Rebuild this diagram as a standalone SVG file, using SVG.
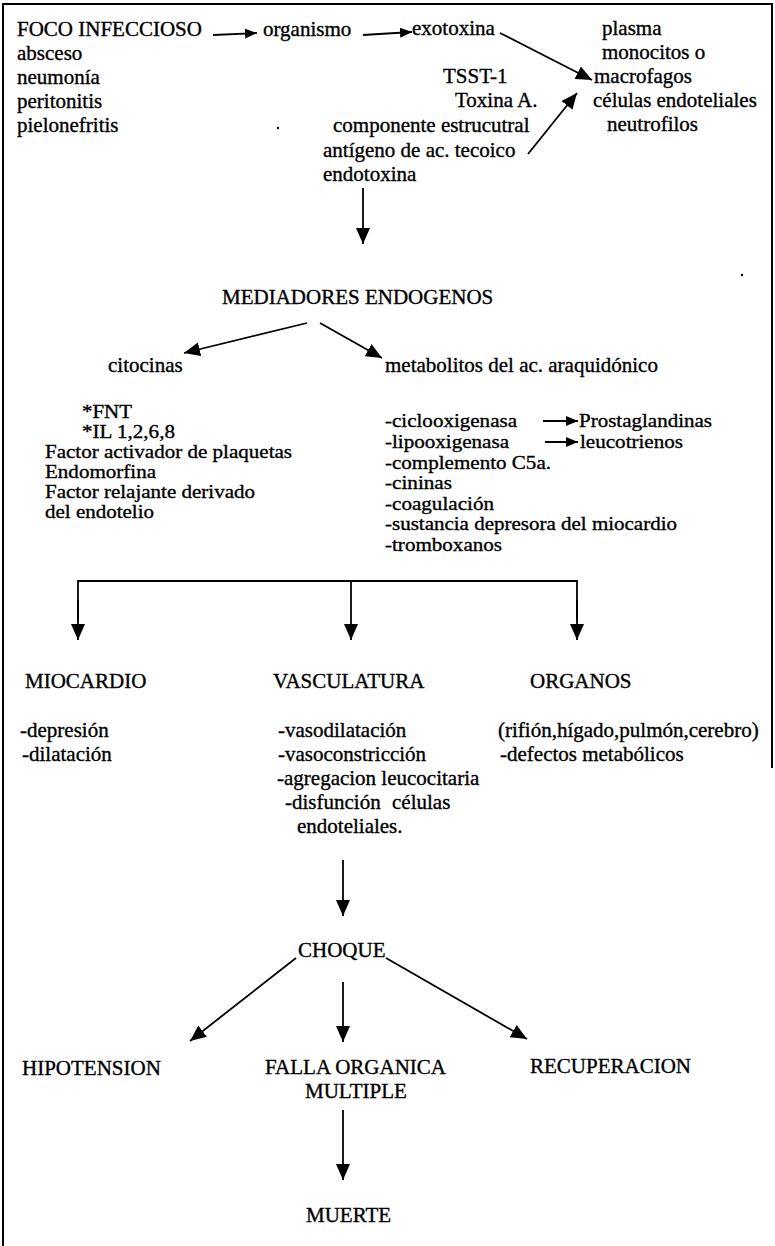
<svg xmlns="http://www.w3.org/2000/svg" width="775" height="1246" viewBox="0 0 775 1246">
  <style>
    text { font-family: "Liberation Serif", "Times New Roman", serif; font-size: 21px; fill: #000; stroke: #000; stroke-width: 0.35px; }
    text.dense { font-size: 18.5px; }
    .frame { fill: none; stroke: #000; stroke-width: 2; }
    .conn { fill: none; stroke: #000; stroke-width: 1.8; }
    .big { marker-end: url(#ah); }
    .small { marker-end: url(#ahs); }
  </style>
  <defs>
    <marker id="ah" viewBox="0 0 16 14" refX="16" refY="7" markerWidth="16" markerHeight="14" markerUnits="userSpaceOnUse" orient="auto">
      <path d="M0,0 L16,7 L0,14 z" fill="#000"/>
    </marker>
    <marker id="ahs" viewBox="0 0 12 10" refX="12" refY="5" markerWidth="12" markerHeight="10" markerUnits="userSpaceOnUse" orient="auto">
      <path d="M0,0 L12,5 L0,10 z" fill="#000"/>
    </marker>
  </defs>

  <rect width="775" height="1246" fill="#fff"/>

  <!-- outer frame: top, left, partial right -->
  <g id="frame">
    <path class="frame" d="M3,1246 L3,4 L772,4 L772,768"/>
  </g>

  <!-- connectors -->
  <g id="connectors">
    <line class="conn small" x1="213" y1="35" x2="257" y2="33"/>
    <line class="conn small" x1="363" y1="35" x2="412" y2="32"/>
    <line class="conn big" x1="500" y1="33" x2="592" y2="80"/>
    <line class="conn big" x1="528" y1="154" x2="577" y2="93"/>
    <line class="conn big" x1="363" y1="188" x2="363" y2="244"/>
    <line class="conn big" x1="307" y1="323" x2="184" y2="353"/>
    <line class="conn big" x1="320" y1="323" x2="382" y2="358"/>
    <line class="conn small" x1="543" y1="421" x2="578" y2="421"/>
    <line class="conn small" x1="545" y1="442" x2="578" y2="442"/>
    <path class="conn" d="M78,620 L78,581 L577,581 L577,620"/>
    <line class="conn big" x1="78" y1="600" x2="78" y2="640"/>
    <line class="conn big" x1="351" y1="581" x2="351" y2="640"/>
    <line class="conn big" x1="577" y1="600" x2="577" y2="640"/>
    <line class="conn big" x1="343" y1="860" x2="343" y2="916"/>
    <line class="conn big" x1="296" y1="958" x2="190" y2="1041"/>
    <line class="conn big" x1="343" y1="982" x2="343" y2="1042"/>
    <line class="conn big" x1="386" y1="958" x2="527" y2="1039"/>
    <line class="conn big" x1="343" y1="1110" x2="343" y2="1180"/>
  </g>

  <g id="foco">
    <text x="17" y="36">FOCO INFECCIOSO</text>
    <text x="17" y="60">absceso</text>
    <text x="17" y="84">neumonía</text>
    <text x="17" y="108">peritonitis</text>
    <text x="17" y="132">pielonefritis</text>
  </g>
  <g id="organismo"><text x="263" y="36">organismo</text></g>
  <g id="exotoxina">
    <text x="412" y="35">exotoxina</text>
    <text x="443" y="83">TSST-1</text>
    <text x="455" y="107">Toxina A.</text>
  </g>
  <g id="endotoxina">
    <text x="333" y="132">componente estrucutral</text>
    <text x="323" y="157">antígeno de ac. tecoico</text>
    <text x="323" y="181">endotoxina</text>
  </g>
  <g id="celulas">
    <text x="602" y="35">plasma</text>
    <text x="602" y="59">monocitos o</text>
    <text x="594" y="83">macrofagos</text>
    <text x="593" y="107">células endoteliales</text>
    <text x="607" y="131">neutrofilos</text>
  </g>
  <g id="specks">
    <circle cx="278" cy="128" r="1.2" fill="#000"/>
    <circle cx="742" cy="275" r="1.2" fill="#000"/>
  </g>

  <g id="mediadores"><text x="222" y="304">MEDIADORES ENDOGENOS</text></g>

  <g id="citocinas">
    <text x="108" y="372">citocinas</text>
    <text class="dense" x="82" y="418" textLength="50" lengthAdjust="spacingAndGlyphs">*FNT</text>
    <text class="dense" x="82" y="438" textLength="93" lengthAdjust="spacingAndGlyphs">*IL 1,2,6,8</text>
    <text class="dense" x="45" y="458" textLength="247" lengthAdjust="spacingAndGlyphs">Factor activador de plaquetas</text>
    <text class="dense" x="45" y="478" textLength="111" lengthAdjust="spacingAndGlyphs">Endomorfina</text>
    <text class="dense" x="45" y="498" textLength="210" lengthAdjust="spacingAndGlyphs">Factor relajante derivado</text>
    <text class="dense" x="45" y="518" textLength="109" lengthAdjust="spacingAndGlyphs">del endotelio</text>
  </g>

  <g id="metabolitos">
    <text x="385" y="372">metabolitos del ac. araquidónico</text>
    <text class="dense" x="385" y="427" textLength="132" lengthAdjust="spacingAndGlyphs">-ciclooxigenasa</text>
    <text class="dense" x="385" y="448" textLength="124" lengthAdjust="spacingAndGlyphs">-lipooxigenasa</text>
    <text class="dense" x="385" y="469" textLength="166" lengthAdjust="spacingAndGlyphs">-complemento C5a.</text>
    <text class="dense" x="385" y="489" textLength="67" lengthAdjust="spacingAndGlyphs">-cininas</text>
    <text class="dense" x="385" y="510" textLength="109" lengthAdjust="spacingAndGlyphs">-coagulación</text>
    <text class="dense" x="385" y="530" textLength="292" lengthAdjust="spacingAndGlyphs">-sustancia depresora del miocardio</text>
    <text class="dense" x="385" y="551" textLength="117" lengthAdjust="spacingAndGlyphs">-tromboxanos</text>
  </g>
  <g id="prostaglandinas"><text class="dense" x="579" y="427" textLength="133" lengthAdjust="spacingAndGlyphs">Prostaglandinas</text></g>
  <g id="leucotrienos"><text class="dense" x="580" y="448" textLength="103" lengthAdjust="spacingAndGlyphs">leucotrienos</text></g>

  <g id="miocardio">
    <text x="25" y="688">MIOCARDIO</text>
    <text x="20" y="737">-depresión</text>
    <text x="22" y="761">-dilatación</text>
  </g>
  <g id="vasculatura">
    <text x="273" y="688">VASCULATURA</text>
    <text x="278" y="737">-vasodilatación</text>
    <text x="278" y="761">-vasoconstricción</text>
    <text x="277" y="785">-agregacion leucocitaria</text>
    <text x="285" y="809">-disfunción</text>
    <text x="392" y="809">células</text>
    <text x="297" y="833">endoteliales.</text>
  </g>
  <g id="organos">
    <text x="530" y="688">ORGANOS</text>
    <text x="498" y="737">(rifión,hígado,pulmón,cerebro)</text>
    <text x="500" y="761">-defectos metabólicos</text>
  </g>

  <g id="choque"><text x="298" y="957">CHOQUE</text></g>
  <g id="hipotension"><text x="22" y="1075">HIPOTENSION</text></g>
  <g id="falla">
    <text x="265" y="1074">FALLA ORGANICA</text>
    <text x="305" y="1098">MULTIPLE</text>
  </g>
  <g id="recuperacion"><text x="530" y="1073">RECUPERACION</text></g>
  <g id="muerte"><text x="306" y="1222">MUERTE</text></g>
</svg>
